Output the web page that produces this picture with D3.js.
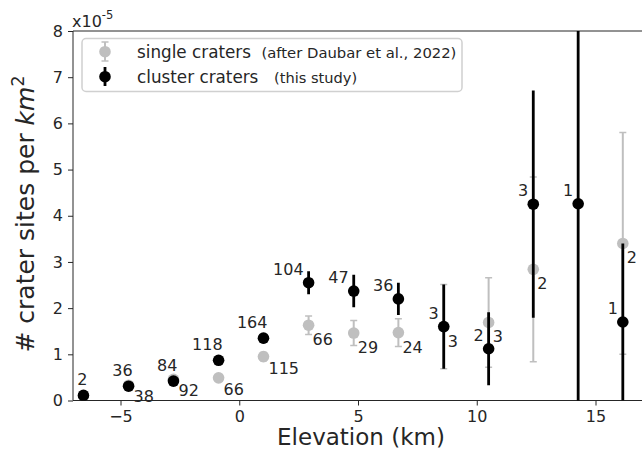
<!DOCTYPE html>
<html>
<head>
<meta charset="utf-8">
<script src="https://cdn.jsdelivr.net/npm/d3@7"></script>
<style>
  html, body { margin: 0; padding: 0; background: #fff; }
  svg { display: block; font-family: "DejaVu Sans", sans-serif; }
</style>
</head>
<body>
<svg id="chart" width="642" height="454"></svg>
<script>
// Elevation bin centres (km)
const elevation = [-6.56, -4.66, -2.77, -0.87, 1.02, 2.92, 4.82, 6.70, 8.61, 10.50, 12.38, 14.27, 16.15];

// Cluster craters (this study): density in units of 1e-5 per km^2, 1-sigma error, site counts
const clusterDensity = [0.11, 0.31, 0.42, 0.87, 1.35, 2.55, 2.37, 2.20, 1.60, 1.12, 4.25, 4.26, 1.70];
const clusterError   = [0.08, 0.05, 0.05, 0.08, 0.11, 0.25, 0.35, 0.35, 0.91, 0.79, 2.46, 4.30, 1.70];
const clusterCount   = [2, 36, 84, 118, 164, 104, 47, 36, 3, 2, 3, 1, 1];

// Single craters (after Daubar et al., 2022); null where a bin has none
const singleDensity = [null, 0.33, 0.46, 0.49, 0.95, 1.63, 1.46, 1.47, 1.60, 1.69, 2.84, null, 3.40];
const singleError   = [null, 0.05, 0.05, 0.06, 0.09, 0.20, 0.27, 0.30, 0.91, 0.97, 2.00, null, 2.40];
const singleCount   = [null, 38, 92, 66, 115, 66, 29, 24, 3, 3, 2, null, 2];

const xTicks = [-5, 0, 5, 10, 15];
const yTicks = [0, 1, 2, 3, 4, 5, 6, 7, 8];

const svg = d3.select("#chart");
const pL = 73, pR = 643, pT = 31, pB = 400.5;
const x = d3.scaleLinear().domain([-7, 17]).range([pL, pR]);
const y = d3.scaleLinear().domain([0, 8]).range([pB, pT]);

const ink = "#262626";
const grey = "#bfbfbf";

svg.append("defs").append("clipPath").attr("id", "plotclip")
  .append("rect").attr("x", pL).attr("y", pT).attr("width", pR - pL).attr("height", pB - pT);

// Axes
const xAxis = d3.axisBottom(x).tickValues(xTicks).tickSize(5).tickPadding(5)
  .tickFormat(d => d < 0 ? "\u2212" + Math.abs(d) : String(d));
const yAxis = d3.axisLeft(y).tickValues(yTicks).tickSize(5).tickPadding(5).tickFormat(d3.format("d"));

const gx = svg.append("g").attr("transform", `translate(0,${pB})`).call(xAxis);
const gy = svg.append("g").attr("transform", `translate(${pL},0)`).call(yAxis);
[gx, gy].forEach(g => {
  g.select(".domain").remove();
  g.selectAll("line").attr("stroke", ink).attr("stroke-width", 1);
  g.selectAll("text").attr("fill", ink).style("font-size", "16px").style("font-family", "DejaVu Sans");
});

// Frame
svg.append("line").attr("x1", pL).attr("x2", pL).attr("y1", pT).attr("y2", pB).attr("stroke", ink);
svg.append("line").attr("x1", pL).attr("x2", pR).attr("y1", pB).attr("y2", pB).attr("stroke", ink);
svg.append("line").attr("x1", pL).attr("x2", pR).attr("y1", pT).attr("y2", pT).attr("stroke", ink);
svg.append("line").attr("x1", pR).attr("x2", pR).attr("y1", pT).attr("y2", pB).attr("stroke", ink);

// Offset text
const off = svg.append("text").attr("x", pL - 1).attr("y", 27).attr("fill", ink).style("font-size", "16px");
off.append("tspan").text("x10");
off.append("tspan").attr("dy", -8).style("font-size", "11.5px").text("-5");

// Axis titles
svg.append("text").attr("x", (pL + pR) / 2 + 3).attr("y", 445).attr("text-anchor", "middle")
  .attr("fill", ink).style("font-size", "23px").text("Elevation (km)");

const yt = svg.append("text").attr("transform", `translate(34,214) rotate(-90)`)
  .attr("text-anchor", "middle").attr("fill", ink).style("font-size", "25px");
yt.append("tspan").text("# crater sites per ");
yt.append("tspan").style("font-style", "italic").text("km");
yt.append("tspan").attr("dy", -10).style("font-size", "17.5px").text("2");

const plot = svg.append("g").attr("clip-path", "url(#plotclip)");

const singles = elevation.map((e, i) => ({ e, v: singleDensity[i], err: singleError[i], n: singleCount[i] }))
  .filter(d => d.v !== null);
const clusters = elevation.map((e, i) => ({ e, v: clusterDensity[i], err: clusterError[i], n: clusterCount[i] }));

// Single craters: capped grey error bars, then markers
const sBars = plot.append("g").selectAll("g").data(singles).join("g").attr("stroke", grey).attr("stroke-width", 2);
sBars.append("line").attr("x1", d => x(d.e)).attr("x2", d => x(d.e))
  .attr("y1", d => y(d.v + d.err)).attr("y2", d => y(Math.max(0, d.v - d.err)));
sBars.append("line").attr("x1", d => x(d.e) - 3.5).attr("x2", d => x(d.e) + 3.5)
  .attr("y1", d => y(d.v + d.err)).attr("y2", d => y(d.v + d.err)).attr("stroke-width", 1.5);
sBars.append("line").attr("x1", d => x(d.e) - 3.5).attr("x2", d => x(d.e) + 3.5)
  .attr("y1", d => y(d.v - d.err)).attr("y2", d => y(d.v - d.err)).attr("stroke-width", 1.5);
plot.append("g").selectAll("circle").data(singles).join("circle")
  .attr("cx", d => x(d.e)).attr("cy", d => y(d.v)).attr("r", 5.8).attr("fill", grey);

// Cluster craters: black error bars, then markers
plot.append("g").selectAll("line").data(clusters).join("line")
  .attr("x1", d => x(d.e)).attr("x2", d => x(d.e))
  .attr("y1", d => y(d.v + d.err)).attr("y2", d => y(d.v - d.err))
  .attr("stroke", "#000").attr("stroke-width", 2.8);
plot.append("g").selectAll("circle").data(clusters).join("circle")
  .attr("cx", d => x(d.e)).attr("cy", d => y(d.v)).attr("r", 5.8).attr("fill", "#000");

// Count labels
const labels = svg.append("g").attr("fill", ink).style("font-size", "16px");
labels.selectAll("text.c").data(clusters).join("text").attr("class", "c")
  .attr("text-anchor", "end")
  .attr("x", d => x(d.e) + (d.e < 2 ? 4 : -5))
  .attr("y", d => y(d.v) + (d.e < 2 ? -10 : -8))
  .text(d => d.n);
labels.selectAll("text.s").data(singles).join("text").attr("class", "s")
  .attr("x", d => x(d.e) + (d.e < 2 ? 5 : 4))
  .attr("y", d => y(d.v) + (d.e < 2 ? 17 : 20))
  .text(d => d.n);

// Legend
const lg = svg.append("g");
lg.append("rect").attr("x", 82).attr("y", 38.5).attr("width", 380).attr("height", 53).attr("rx", 4)
  .attr("fill", "#fff").attr("fill-opacity", 0.85).attr("stroke", "#d0d0d0").attr("stroke-width", 1.5);
const lx = 105;
lg.append("line").attr("x1", lx).attr("x2", lx).attr("y1", 42).attr("y2", 61).attr("stroke", grey).attr("stroke-width", 2);
lg.append("line").attr("x1", lx - 3.5).attr("x2", lx + 3.5).attr("y1", 42).attr("y2", 42).attr("stroke", grey).attr("stroke-width", 1.5);
lg.append("line").attr("x1", lx - 3.5).attr("x2", lx + 3.5).attr("y1", 61).attr("y2", 61).attr("stroke", grey).attr("stroke-width", 1.5);
lg.append("circle").attr("cx", lx).attr("cy", 51.7).attr("r", 5.8).attr("fill", grey);
lg.append("line").attr("x1", lx).attr("x2", lx).attr("y1", 67).attr("y2", 86).attr("stroke", "#000").attr("stroke-width", 2.8);
lg.append("circle").attr("cx", lx).attr("cy", 76.7).attr("r", 5.8).attr("fill", "#000");

const t1 = lg.append("text").attr("x", 137).attr("y", 57.5).attr("fill", ink).style("font-size", "16.8px");
t1.append("tspan").text("single craters");
t1.append("tspan").attr("x", 261.5).style("font-size", "14.8px").text("(after Daubar et al., 2022)");
const t2 = lg.append("text").attr("x", 137).attr("y", 82.5).attr("fill", ink).style("font-size", "16.8px");
t2.append("tspan").text("cluster craters");
t2.append("tspan").attr("x", 274).style("font-size", "14.6px").text("(this study)");
</script>
</body>
</html>
